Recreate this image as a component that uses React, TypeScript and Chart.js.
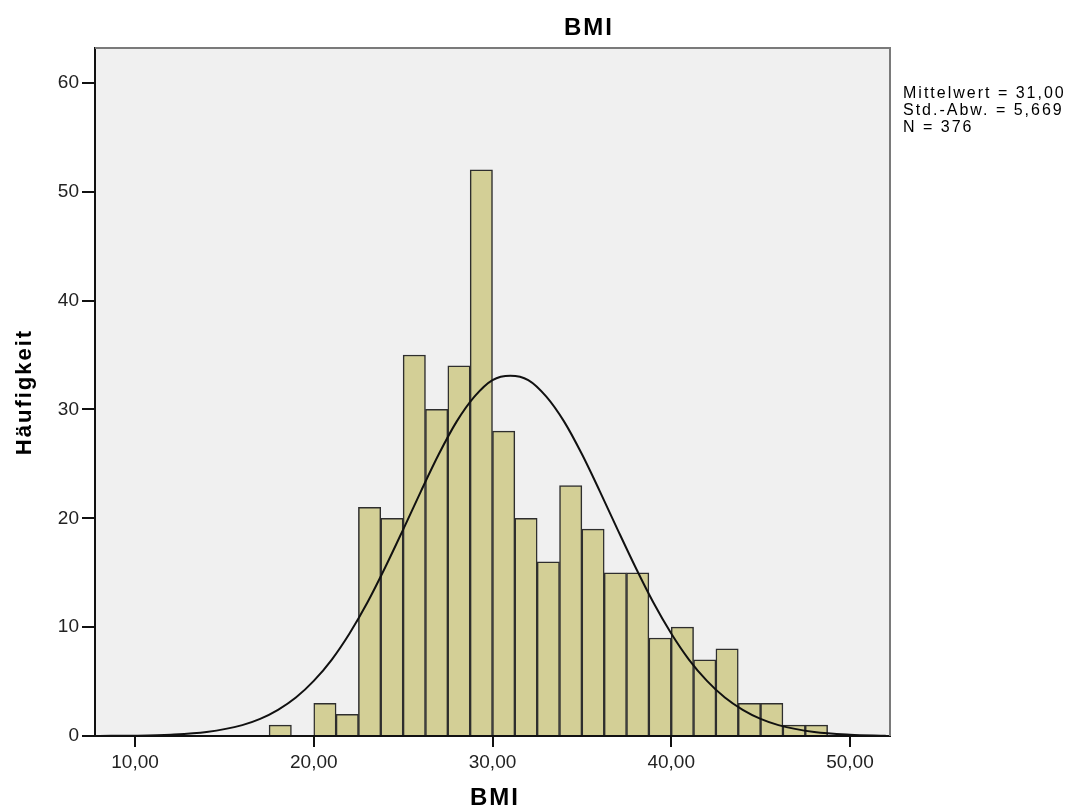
import React, { useEffect, useRef } from "react";
import { Chart, registerables } from "chart.js";

Chart.register(...registerables);

// Histogram bins (lower edge, width 1.25) and frequencies
const binStarts = [17.5, 18.75, 20, 21.25, 22.5, 23.75, 25, 26.25, 27.5, 28.75, 30, 31.25, 32.5, 33.75, 35, 36.25, 37.5, 38.75, 40, 41.25, 42.5, 43.75, 45, 46.25, 47.5];
const binWidth = 1.25;
const frequencies = [1, 0, 3, 2, 21, 20, 35, 30, 34, 52, 28, 20, 16, 23, 19, 15, 15, 9, 10, 7, 8, 3, 3, 1, 1];

// Normal curve
const curveX = [8, 10, 12, 14, 16, 17, 18, 19, 20, 21, 22, 23, 24, 25, 26, 27, 28, 29, 30, 31, 32, 33, 34, 35, 36, 37, 38, 39, 40, 41, 42, 43, 44, 45, 46, 48, 50, 52];
const curveY = [0.01, 0.03, 0.12, 0.37, 1.0, 1.57, 2.4, 3.53, 5.06, 7.0, 9.42, 12.26, 15.5, 18.96, 22.5, 25.9, 28.9, 31.2, 32.7, 33.1, 32.7, 31.2, 28.9, 25.9, 22.5, 18.96, 15.5, 12.26, 9.42, 7.0, 5.06, 3.53, 2.4, 1.57, 1.0, 0.37, 0.12, 0.03];

const xTicks = [10, 20, 30, 40, 50];
const yTicks = [0, 10, 20, 30, 40, 50, 60];

const titleText = "BMI";
const xTitle = "BMI";
const yTitle = "Häufigkeit";
const statsLines = ["Mittelwert = 31,00", "Std.-Abw. = 5,669", "N = 376"];

const FONT = '"Liberation Sans", Arial, sans-serif';

export default function App() {
  const ref = useRef<HTMLCanvasElement | null>(null);

  useEffect(() => {
    if (!ref.current) return;

    const framePlugin = {
      id: "frame",
      beforeDraw(chart: any) {
        const { ctx, chartArea: a } = chart;
        ctx.save();
        ctx.fillStyle = "#f0f0f0";
        ctx.fillRect(a.left, a.top, a.right - a.left, a.bottom - a.top);
        ctx.restore();
      },
      afterDraw(chart: any) {
        const { ctx, chartArea: a } = chart;
        ctx.save();
        ctx.strokeStyle = "#7a7a7a";
        ctx.lineWidth = 2;
        ctx.beginPath();
        ctx.moveTo(a.left, a.top);
        ctx.lineTo(a.right, a.top);
        ctx.lineTo(a.right, a.bottom);
        ctx.stroke();
        ctx.fillStyle = "#000";
        (ctx as any).letterSpacing = "2px";
        ctx.textAlign = "center";
        ctx.textBaseline = "middle";
        ctx.font = `bold 24px ${FONT}`;
        ctx.fillText(titleText, 589, 28);
        ctx.fillText(xTitle, 495, 798);
        ctx.save();
        ctx.translate(25, 392);
        ctx.rotate(-Math.PI / 2);
        ctx.font = `bold 22px ${FONT}`;
        ctx.fillText(yTitle, 0, 0);
        ctx.restore();
        ctx.textAlign = "left";
        ctx.font = `16px ${FONT}`;
        statsLines.forEach((l, i) => ctx.fillText(l, 903, 94 + i * 17));
        (ctx as any).letterSpacing = "0px";
        ctx.restore();
      },
    };

    const chart = new Chart(ref.current, {
      type: "bar",
      data: {
        datasets: [
          {
            type: "line",
            data: curveX.map((x, i) => ({ x, y: curveY[i] })),
            borderColor: "#111",
            borderWidth: 2,
            pointRadius: 0,
            cubicInterpolationMode: "monotone",
            fill: false,
            order: 0,
          } as any,
          {
            type: "bar",
            data: binStarts.map((s, i) => ({ x: s + binWidth / 2, y: frequencies[i] })),
            backgroundColor: "#d3cf96",
            borderColor: "#2e2e2e",
            borderWidth: 1.5,
            borderSkipped: "bottom",
            barPercentage: 1,
            categoryPercentage: 1,
            order: 1,
          } as any,
        ],
      },
      options: {
        animation: false,
        responsive: false,
        layout: { padding: { top: 48, right: 189, left: 0, bottom: 0 } },
        plugins: { legend: { display: false }, tooltip: { enabled: false }, title: { display: false } },
        scales: {
          x: {
            type: "linear",
            min: 7.76,
            max: 52.24,
            offset: false,
            afterBuildTicks: (s: any) => {
              s.ticks = xTicks.map((v) => ({ value: v }));
            },
            afterFit: (s: any) => {
              s.height = 74;
            },
            ticks: {
              callback: (v: any) => Number(v).toFixed(2).replace(".", ","),
              font: { family: FONT, size: 19 },
              color: "#222",
              padding: 4,
              maxRotation: 0,
              autoSkip: false,
            },
            grid: { offset: false, drawOnChartArea: false, drawTicks: true, tickLength: 11, color: "#111", lineWidth: 2 },
            border: { display: true, color: "#111", width: 2 },
          },
          y: {
            type: "linear",
            min: 0,
            max: 63.2,
            afterBuildTicks: (s: any) => {
              s.ticks = yTicks.map((v) => ({ value: v }));
            },
            afterFit: (s: any) => {
              s.width = 95;
            },
            ticks: {
              font: { family: FONT, size: 19 },
              color: "#222",
              padding: 3,
              autoSkip: false,
            },
            grid: { drawOnChartArea: false, drawTicks: true, tickLength: 13, color: "#111", lineWidth: 2 },
            border: { display: true, color: "#111", width: 2 },
          },
        },
      } as any,
      plugins: [framePlugin],
    });

    return () => chart.destroy();
  }, []);

  return (
    <div style={{ position: "fixed", left: 0, top: 0, width: 1079, height: 810, background: "#fff" }}>
      <canvas ref={ref} width={1079} height={810} style={{ width: 1079, height: 810, display: "block" }} />
    </div>
  );
}
